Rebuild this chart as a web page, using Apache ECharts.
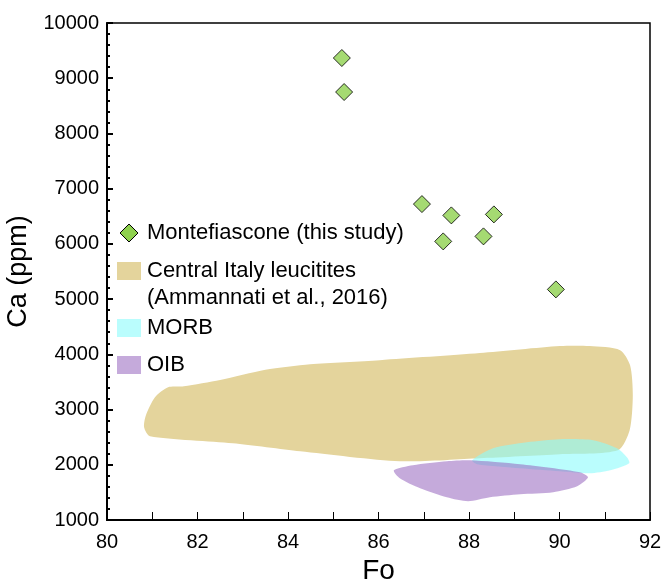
<!DOCTYPE html>
<html>
<head>
<meta charset="utf-8">
<script src="https://cdn.jsdelivr.net/npm/echarts@6/dist/echarts.min.js"></script>
<style>
  html, body { margin: 0; padding: 0; background: #fff; }
  #main { width: 663px; height: 579px; }
</style>
</head>
<body>
<div id="main"></div>
<script>
// Montefiascone olivines
const fo = [85.19, 85.24, 86.96, 87.61, 88.55, 87.43, 88.32, 89.92];
const ca = [9366, 8750, 6721, 6516, 6534, 6045, 6136, 5176];

// Central Italy leucitites field (outline)
const leuX = [80.82, 80.86, 81.06, 81.35, 81.70, 82.50, 83.50, 84.49, 86.03, 88.24, 90.01, 90.67, 91.34, 91.56, 91.62, 91.55, 91.29, 90.01, 88.24, 86.47, 84.27, 82.78, 80.95];
const leuY = [2681, 2899, 3225, 3406, 3420, 3533, 3720, 3822, 3895, 4022, 4149, 4149, 4076, 3804, 3261, 2627, 2264, 2192, 2120, 2065, 2246, 2391, 2518];

// MORB field
const morbX = [88.07, 88.53, 89.28, 90.01, 90.74, 91.27, 91.49, 91.54, 91.12, 90.67, 90.01, 89.13, 88.18];
const morbY = [2083, 2301, 2409, 2464, 2446, 2301, 2138, 2029, 1902, 1848, 1884, 1938, 2011];

// OIB field
const oibX = [86.34, 86.76, 87.51, 88.02, 89.13, 90.45, 90.63, 90.39, 89.86, 89.13, 88.46, 87.98, 87.51, 86.92, 86.47];
const oibY = [1902, 1993, 2065, 2083, 2011, 1866, 1775, 1612, 1504, 1467, 1413, 1341, 1413, 1576, 1757];

const xTicks = [80, 82, 84, 86, 88, 90, 92];
const yTicks = [1000, 2000, 3000, 4000, 5000, 6000, 7000, 8000, 9000, 10000];

const font = "'Liberation Sans', Arial, sans-serif";
const chart = echarts.init(document.getElementById('main'));

function field(xs, ys, color) {
  return {
    type: 'custom',
    data: [[xs[0], ys[0]]],
    silent: true,
    renderItem: function (params, api) {
      const pts = xs.map(function (x, i) { return api.coord([x, ys[i]]); });
      return {
        type: 'polygon',
        shape: { points: pts, smooth: 0.25 },
        style: { fill: color, stroke: null }
      };
    }
  };
}

chart.setOption({
  animation: false,
  grid: {
    left: 107, top: 23, right: 13, bottom: 59,
    outerBoundsMode: 'none', containLabel: false,
    show: true, borderColor: '#000', borderWidth: 1.5, backgroundColor: 'transparent'
  },
  xAxis: {
    type: 'value', min: xTicks[0], max: xTicks[xTicks.length - 1], interval: 2,
    name: 'Fo', nameLocation: 'middle', nameGap: 30,
    nameTextStyle: { fontSize: 28, color: '#000', fontFamily: font },
    axisLine: { lineStyle: { color: '#000', width: 2 } },
    axisTick: { inside: true, length: 8, lineStyle: { color: '#000', width: 1 } },
    minorTick: { show: true, splitNumber: 2, length: 8, lineStyle: { color: '#000', width: 1 } },
    axisLabel: { fontSize: 20, color: '#000', fontFamily: font, margin: 12, formatter: function (v) { return String(v); } },
    splitLine: { show: false }
  },
  yAxis: {
    type: 'value', min: yTicks[0], max: yTicks[yTicks.length - 1], interval: 1000,
    name: 'Ca (ppm)', nameLocation: 'middle', nameGap: 70,
    nameTextStyle: { fontSize: 27, color: '#000', fontFamily: font },
    axisLine: { lineStyle: { color: '#000', width: 2 } },
    axisTick: { inside: true, length: 6, lineStyle: { color: '#000', width: 2 } },
    minorTick: { show: true, splitNumber: 5, length: 3, lineStyle: { color: '#000', width: 2 } },
    axisLabel: { fontSize: 20, color: '#000', fontFamily: font, margin: 8, formatter: function (v) { return String(v); } },
    splitLine: { show: false }
  },
  series: [
    field(leuX, leuY, '#e4d49c'),
    field(morbX, morbY, 'rgba(140,252,252,0.6)'),
    field(oibX, oibY, 'rgba(150,100,190,0.55)'),
    {
      type: 'scatter',
      data: fo.map(function (x, i) { return [x, ca[i]]; }),
      symbol: 'diamond',
      symbolSize: 17,
      itemStyle: { color: '#8fd14f', borderColor: '#000', borderWidth: 1 },
      z: 5
    }
  ],
  graphic: [
    { type: 'polygon', shape: { points: [[129, 224], [138, 233], [129, 242], [120, 233]] },
      style: { fill: '#8fd14f', stroke: '#000', lineWidth: 1 } },
    { type: 'text', x: 147, y: 233, style: { text: 'Montefiascone (this study)', font: '22px ' + font, fill: '#000', verticalAlign: 'middle' } },
    { type: 'rect', shape: { x: 117, y: 262, width: 24, height: 18 }, style: { fill: '#e4d49c' } },
    { type: 'text', x: 147, y: 271, style: { text: 'Central Italy leucitites', font: '22px ' + font, fill: '#000', verticalAlign: 'middle' } },
    { type: 'text', x: 147, y: 298, style: { text: '(Ammannati et al., 2016)', font: '22px ' + font, fill: '#000', verticalAlign: 'middle' } },
    { type: 'rect', shape: { x: 117, y: 319, width: 24, height: 18 }, style: { fill: 'rgba(140,252,252,0.6)' } },
    { type: 'text', x: 147, y: 328, style: { text: 'MORB', font: '22px ' + font, fill: '#000', verticalAlign: 'middle' } },
    { type: 'rect', shape: { x: 117, y: 356, width: 24, height: 18 }, style: { fill: 'rgba(150,100,190,0.55)' } },
    { type: 'text', x: 147, y: 365, style: { text: 'OIB', font: '22px ' + font, fill: '#000', verticalAlign: 'middle' } }
  ]
});
</script>
</body>
</html>
